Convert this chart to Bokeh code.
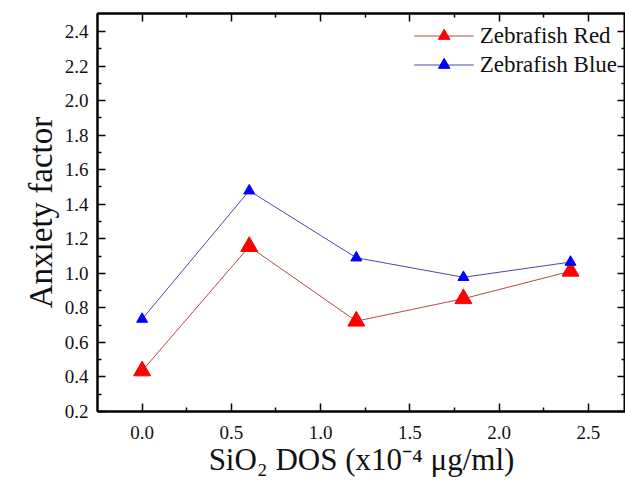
from bokeh.plotting import figure
from bokeh.models import Range1d, LinearAxis, Legend, LegendItem, FixedTicker, PrintfTickFormatter
from bokeh.embed import file_html
from bokeh.resources import INLINE

# ---- data ----
dose = [0.0, 0.6, 1.2, 1.8, 2.4]
red_vals = [0.435, 1.155, 0.723, 0.853, 1.012]
blue_vals = [0.735, 1.478, 1.090, 0.977, 1.065]
x_ticks = [0.0, 0.5, 1.0, 1.5, 2.0, 2.5]
x_minor = [0.25, 0.75, 1.25, 1.75, 2.25]
y_ticks = [0.2, 0.4, 0.6, 0.8, 1.0, 1.2, 1.4, 1.6, 1.8, 2.0, 2.2, 2.4]
y_minor = [0.3, 0.5, 0.7, 0.9, 1.1, 1.3, 1.5, 1.7, 1.9, 2.1, 2.3]
x_title = "SiO\u2082 DOS (x10\u207b\u2074 \u03bcg/ml)"
y_title = "Anxiety factor"
series_names = ["Zebrafish Red", "Zebrafish Blue"]

FONT = "Liberation Serif"

p = figure(width=625, height=484, output_backend="svg", toolbar_location=None,
           x_range=Range1d(-0.25, 2.708), y_range=Range1d(0.2, 2.504),
           min_border_left=97, min_border_right=0, min_border_top=13, min_border_bottom=73,
           x_axis_location=None, y_axis_location=None)
p.grid.visible = False
p.outline_line_color = "black"
p.outline_line_width = 2
p.background_fill_color = "white"
p.border_fill_color = "white"

def style(ax, labels=True, ticks=None):
    ax.axis_line_color = "black"
    ax.axis_line_width = 2
    ax.major_tick_in = 8
    ax.major_tick_out = 0
    ax.minor_tick_in = 4
    ax.minor_tick_out = 0
    ax.major_tick_line_width = 1.5
    ax.minor_tick_line_width = 1.5
    ax.major_tick_line_color = "black"
    ax.minor_tick_line_color = "black"
    ax.major_label_text_font = FONT
    ax.major_label_text_color = "#111111"
    if labels:
        ax.major_label_text_font_size = "19px"
        ax.formatter = PrintfTickFormatter(format="%.1f")
    else:
        ax.major_label_overrides = {t: "" for t in ticks}
        ax.major_label_text_font_size = "0px"
        ax.major_label_standoff = 0

xb = LinearAxis(ticker=FixedTicker(ticks=x_ticks, minor_ticks=x_minor), axis_label=x_title)
style(xb)
xb.major_label_standoff = 14
xb.axis_label_text_font = FONT
xb.axis_label_text_font_size = "31px"
xb.axis_label_text_font_style = "normal"
xb.axis_label_text_color = "#111111"
xb.axis_label_standoff = 0
p.add_layout(xb, "below")

xt = LinearAxis(ticker=FixedTicker(ticks=x_ticks, minor_ticks=x_minor))
style(xt, labels=False, ticks=x_ticks)
p.add_layout(xt, "above")

yl = LinearAxis(ticker=FixedTicker(ticks=y_ticks, minor_ticks=y_minor), axis_label=y_title)
style(yl)
yl.major_label_standoff = 9
yl.axis_label_text_font = FONT
yl.axis_label_text_font_size = "33px"
yl.axis_label_text_font_style = "normal"
yl.axis_label_text_color = "#111111"
yl.axis_label_standoff = 3
p.add_layout(yl, "left")

yr = LinearAxis(ticker=FixedTicker(ticks=y_ticks, minor_ticks=y_minor))
style(yr, labels=False, ticks=y_ticks)
p.add_layout(yr, "right")

# ---- series ----
r_line = p.line(dose, red_vals, line_color="#b04a46", line_width=1)
r_mark = p.scatter(dose, red_vals, marker="triangle", size=17, fill_color="#ff0000", line_color="#ff0000")
b_line = p.line(dose, blue_vals, line_color="#4a4aa6", line_width=1)
b_mark = p.scatter(dose, blue_vals, marker="triangle", size=11, fill_color="#0000ff", line_color="#0000ff")

legend = Legend(items=[LegendItem(label=series_names[0], renderers=[r_line, r_mark]),
                       LegendItem(label=series_names[1], renderers=[b_line, b_mark])],
                location="top_right", border_line_color=None, background_fill_alpha=0,
                label_text_font=FONT, label_text_font_size="23px", label_text_color="#111111",
                glyph_width=60, glyph_height=29, label_height=29, spacing=0,
                padding=4, margin=8, label_standoff=6)
p.add_layout(legend, "center")

open("out.html", "w").write(file_html(p, INLINE))
